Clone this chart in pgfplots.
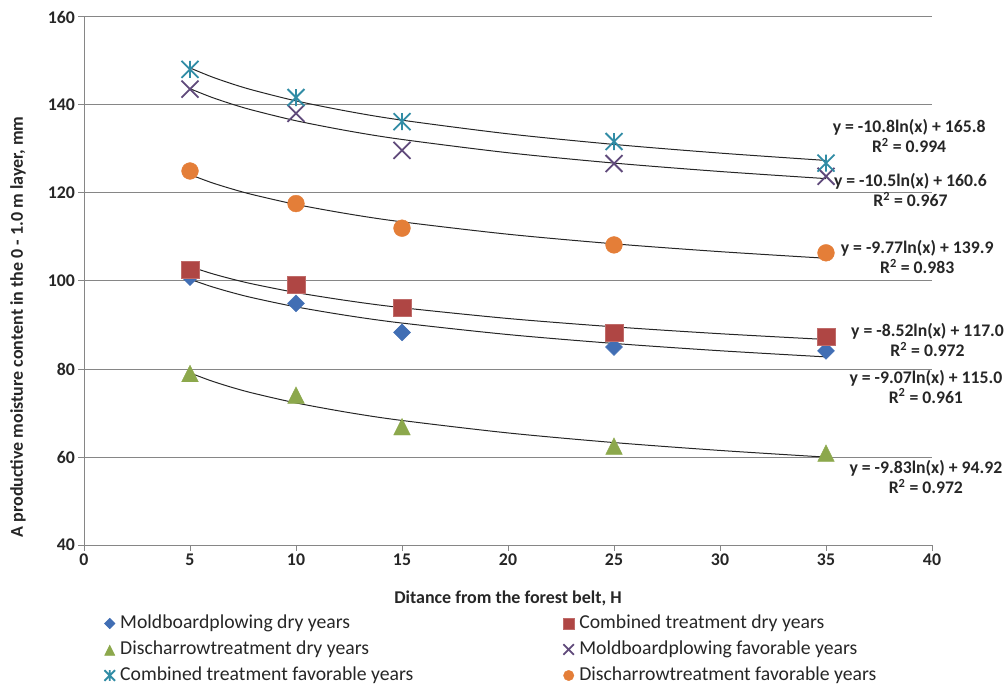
\documentclass[border=0pt]{standalone}
\usepackage{fontspec}
\setmainfont{Carlito}
\usepackage{pgfplots}
\pgfplotsset{compat=1.18}
\definecolor{gridgray}{RGB}{134,134,134}
\definecolor{cblue}{RGB}{65,110,180}
\definecolor{cred}{RGB}{175,70,68}
\definecolor{cgreen}{RGB}{140,168,76}
\definecolor{cpurple}{RGB}{96,74,123}
\definecolor{cteal}{RGB}{49,140,165}
\definecolor{corange}{RGB}{228,126,56}
\pgfdeclareplotmark{xstar}{%
  \pgfpathmoveto{\pgfqpoint{-.7071\pgfplotmarksize}{-.7071\pgfplotmarksize}}%
  \pgfpathlineto{\pgfqpoint{.7071\pgfplotmarksize}{.7071\pgfplotmarksize}}%
  \pgfpathmoveto{\pgfqpoint{-.7071\pgfplotmarksize}{.7071\pgfplotmarksize}}%
  \pgfpathlineto{\pgfqpoint{.7071\pgfplotmarksize}{-.7071\pgfplotmarksize}}%
  \pgfpathmoveto{\pgfqpoint{0pt}{.7071\pgfplotmarksize}}%
  \pgfpathlineto{\pgfqpoint{0pt}{-.7071\pgfplotmarksize}}%
  \pgfusepathqstroke}
\tikzset{eqn/.style={align=center, inner sep=0pt, font=\fontsize{17.7}{20}\selectfont\bfseries, text=black!85}}
\begin{document}
\begin{tikzpicture}
\useasboundingbox (-84pt,-140pt) rectangle (924pt,545pt);
\begin{axis}[
  at={(0pt,0pt)}, anchor=south west,
  scale only axis, width=848pt, height=528pt,
  xmin=0, xmax=40, ymin=40, ymax=160,
  xtick={0,5,...,40}, ytick={40,60,...,160},
  axis x line*=bottom, axis y line*=left,
  axis line style={gridgray, line width=1pt, -},
  ymajorgrids, grid style={gridgray, line width=1pt},
  tick align=outside, major tick length=5.5pt,
  tick style={gridgray, line width=1pt},
  /pgf/number format/assume math mode=true,
  ticklabel style={font=\fontsize{17.8}{21}\selectfont\bfseries, text=black!85},
  xlabel={Ditance from the forest belt, H},
  ylabel={A productive moisture content in the 0 - 1.0 m layer, mm},
  label style={font=\fontsize{18}{21}\selectfont\bfseries, text=black!85},
  xlabel style={at={(axis description cs:0.5,-0.1004)}, anchor=center},
  ylabel style={at={(axis description cs:-0.0778,0.413)}, anchor=center},
  clip=false,
  legend columns=2, legend cell align=left,
  legend style={at={(axis description cs:0,0)}, anchor=north west,
    xshift=20.5pt, yshift=-69pt, draw=none, fill=none,
    inner sep=0pt, outer sep=0pt,
    font=\fontsize{19.7}{23}\selectfont, text=black!85, row sep=7pt,
    nodes={inner sep=0pt, text height=14pt, text depth=5pt},
    /tikz/every odd column/.append style={column sep=5.2pt},
    /tikz/every even column/.append style={column sep=150pt}},
  legend image code/.code={\draw[mark repeat=2,mark phase=2] plot coordinates {(0pt,0pt)(5.5pt,0pt)(11pt,0pt)};},
  legend image post style={/tikz/every mark/.append style={scale=0.62}},
]
% data points
\addplot[only marks, mark=square*, mark size=6pt, color=cblue, mark options={rotate=45, fill=cblue, draw=cblue}]
  coordinates {(5,100.9) (10,94.9) (15,88.3) (25,85.0) (35,84.1)};
\addlegendentry{Moldboardplowing dry years}
\addplot[only marks, mark=square*, mark size=8.7pt, color=cred, mark options={fill=cred, draw=cred!80!white}]
  coordinates {(5,102.6) (10,99.1) (15,93.9) (25,88.3) (35,87.3)};
\addlegendentry{Combined treatment dry years}
\addplot[only marks, mark=triangle*, mark size=9.6pt, color=cgreen, mark options={yshift=-2.4pt, yscale=1.15, fill=cgreen, draw=cgreen}]
  coordinates {(5,78.9) (10,74.0) (15,66.8) (25,62.4) (35,60.8)};
\addlegendentry{Discharrowtreatment dry years}
\addplot[only marks, mark=x, mark size=12pt, color=cpurple, line width=1.8pt]
  coordinates {(5,143.6) (10,138.1) (15,129.7) (25,126.7) (35,123.8)};
\addlegendentry{Moldboardplowing favorable years}
\addplot[only marks, mark=xstar, mark size=12pt, color=cteal, line width=1.8pt]
  coordinates {(5,148.1) (10,141.7) (15,136.2) (25,131.7) (35,126.8)};
\addlegendentry{Combined treatment  favorable years}
\addplot[only marks, mark=*, mark size=8.4pt, color=corange, mark options={fill=corange, draw=corange}]
  coordinates {(5,125.0) (10,117.6) (15,112.0) (25,108.2) (35,106.4)};
\addlegendentry{Discharrowtreatment favorable years}
% trendlines (values from the printed equations)
\addplot[black!85, line width=1pt, smooth, forget plot] coordinates {
 (5,148.42) (6,146.45) (7,144.78) (8,143.34) (10,140.93) (12.5,138.52) (15,136.55) (20,133.45) (25,131.04) (30,129.07) (35,127.40)};
\addplot[black!85, line width=1pt, smooth, forget plot] coordinates {
 (5,143.70) (6,141.79) (7,140.17) (8,138.77) (10,136.42) (12.5,134.08) (15,132.17) (20,129.15) (25,126.80) (30,124.89) (35,123.27)};
\addplot[black!85, line width=1pt, smooth, forget plot] coordinates {
 (5,124.18) (6,122.39) (7,120.89) (8,119.58) (10,117.40) (12.5,115.22) (15,113.44) (20,110.63) (25,108.45) (30,106.67) (35,105.17)};
\addplot[black!85, line width=1pt, smooth, forget plot] coordinates {
 (5,103.29) (6,101.73) (7,100.42) (8,99.28) (10,97.38) (12.5,95.48) (15,93.93) (20,91.48) (25,89.58) (30,88.02) (35,86.71)};
\addplot[black!85, line width=1pt, smooth, forget plot] coordinates {
 (5,100.40) (6,98.75) (7,97.35) (8,96.14) (10,94.12) (12.5,92.09) (15,90.44) (20,87.83) (25,85.81) (30,84.15) (35,82.75)};
\addplot[black!85, line width=1pt, smooth, forget plot] coordinates {
 (5,79.10) (6,77.31) (7,75.79) (8,74.48) (10,72.29) (12.5,70.09) (15,68.30) (20,65.47) (25,63.28) (30,61.49) (35,59.97)};
% trendline labels
\node[eqn] at (axis cs:38.92,133.0) {y = -10.8ln(x) + 165.8\\R\textsuperscript{2} = 0.994};
\node[eqn] at (axis cs:38.98,120.7) {y = -10.5ln(x) + 160.6\\R\textsuperscript{2} = 0.967};
\node[eqn] at (axis cs:39.30,105.5) {y = -9.77ln(x) + 139.9\\R\textsuperscript{2} = 0.983};
\node[eqn] at (axis cs:39.79,86.6) {y = -8.52ln(x) + 117.0\\R\textsuperscript{2} = 0.972};
\node[eqn] at (axis cs:39.71,76.0) {y = -9.07ln(x) + 115.0\\R\textsuperscript{2} = 0.961};
\node[eqn] at (axis cs:39.71,55.5) {y = -9.83ln(x) + 94.92\\R\textsuperscript{2} = 0.972};
\end{axis}
\end{tikzpicture}
\end{document}
